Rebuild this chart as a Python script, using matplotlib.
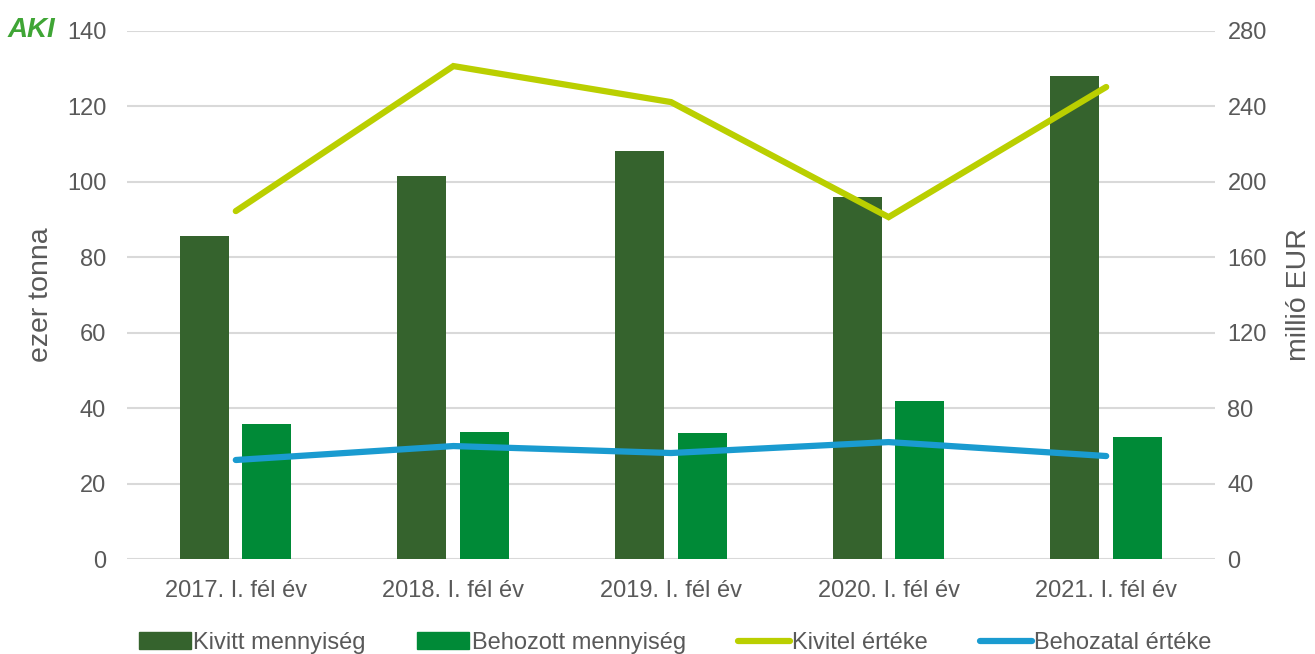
import matplotlib
matplotlib.use("Agg")
import matplotlib.pyplot as plt
from matplotlib.patches import Patch
from matplotlib.lines import Line2D
import numpy as np

plt.rcParams['font.family'] = ['Liberation Sans', 'DejaVu Sans']

categories = ["2017. I. fél év", "2018. I. fél év", "2019. I. fél év", "2020. I. fél év", "2021. I. fél év"]
kivitt_mennyiseg = [85.6, 101.6, 108.2, 96.0, 128.1]
behozott_mennyiseg = [35.8, 33.7, 33.4, 41.9, 32.4]
kivitel_erteke = [184.5, 261.4, 242.3, 181.3, 250.3]
behozatal_erteke = [52.5, 59.9, 56.2, 62.0, 54.6]
left_ticks = [0, 20, 40, 60, 80, 100, 120, 140]
right_ticks = [0, 40, 80, 120, 160, 200, 240, 280]

c_dark = "#35632D"
c_green = "#008A37"
c_lime = "#BACF00"
c_blue = "#1A9BD0"
c_text = "#595959"
c_grid = "#D9D9D9"

W, H = 1315, 654
fig = plt.figure(figsize=(W / 100, H / 100), dpi=100)
ax = fig.add_axes([127 / W, 95 / H, (1215 - 127) / W, 528 / H])
ax2 = ax.twinx()

x = np.arange(len(categories))
bw = 0.225
ax.bar(x - 0.145, kivitt_mennyiseg, width=bw, color=c_dark, zorder=2)
ax.bar(x + 0.143, behozott_mennyiseg, width=bw, color=c_green, zorder=2)
ax2.plot(x, kivitel_erteke, color=c_lime, lw=4.5, solid_capstyle='round', solid_joinstyle='miter')
ax2.plot(x, behozatal_erteke, color=c_blue, lw=4.5, solid_capstyle='round', solid_joinstyle='miter')

ax.set_xlim(-0.5, len(categories) - 0.5)
ax.set_ylim(0, 140)
ax2.set_ylim(0, 280)
ax.set_yticks(left_ticks)
ax2.set_yticks(right_ticks)
ax.set_xticks(x)
ax.set_xticklabels(categories)
ax.yaxis.grid(True, color=c_grid, lw=1.5, zorder=0)
ax.set_axisbelow(True)

for a in (ax, ax2):
    for s in a.spines.values():
        s.set_visible(False)
    a.tick_params(length=0, labelsize=17, labelcolor=c_text)
ax.tick_params(axis='y', pad=15)
ax2.tick_params(axis='y', pad=9)
ax.tick_params(axis='x', pad=15)

ax.set_ylabel("ezer tonna", fontsize=20.5, color=c_text, labelpad=9)
ax2.set_ylabel("millió EUR", fontsize=20.5, color=c_text, labelpad=14)

handles = [
    Patch(color=c_dark, label="Kivitt mennyiség"),
    Patch(color=c_green, label="Behozott mennyiség"),
    Line2D([0], [0], color=c_lime, lw=4.5, solid_capstyle='round', label="Kivitel értéke"),
    Line2D([0], [0], color=c_blue, lw=4.5, solid_capstyle='round', label="Behozatal értéke"),
]
leg = fig.legend(handles=handles, loc='center', bbox_to_anchor=(675 / W, 1 - 643 / H), ncol=4,
                 frameon=False, fontsize=17, handlelength=2.2, handletextpad=0.1,
                 columnspacing=2.2, labelcolor=c_text, handleheight=0.75)

fig.text(8 / W, 1 - 30 / H, "AKI", fontsize=20, fontweight='bold', color="#3FA535",
         ha='left', va='center', style='italic')

fig.savefig("out.png", dpi=100)
